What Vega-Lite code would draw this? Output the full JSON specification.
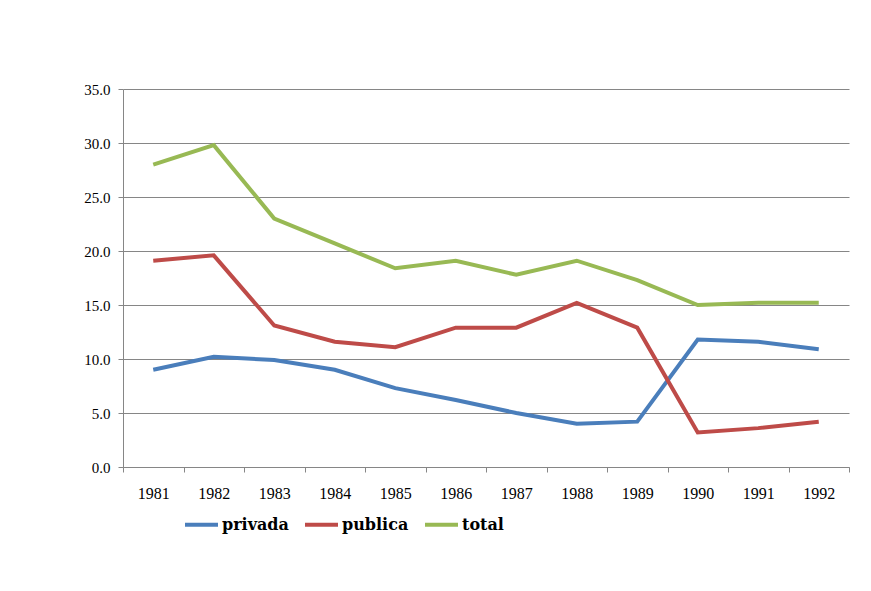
{
  "$schema": "https://vega.github.io/schema/vega-lite/v6.json",
  "autosize": {"type": "none"},
  "width": 726,
  "height": 378,
  "padding": {"left": 123, "top": 89, "right": 22, "bottom": 124},
  "background": "white",
  "data": {"values": [
    {"year": "1981", "serie": "privada", "valor": 9.0},
    {"year": "1982", "serie": "privada", "valor": 10.2},
    {"year": "1983", "serie": "privada", "valor": 9.9},
    {"year": "1984", "serie": "privada", "valor": 9.0},
    {"year": "1985", "serie": "privada", "valor": 7.3},
    {"year": "1986", "serie": "privada", "valor": 6.2},
    {"year": "1987", "serie": "privada", "valor": 5.0},
    {"year": "1988", "serie": "privada", "valor": 4.0},
    {"year": "1989", "serie": "privada", "valor": 4.2},
    {"year": "1990", "serie": "privada", "valor": 11.8},
    {"year": "1991", "serie": "privada", "valor": 11.6},
    {"year": "1992", "serie": "privada", "valor": 10.9},
    {"year": "1981", "serie": "publica", "valor": 19.1},
    {"year": "1982", "serie": "publica", "valor": 19.6},
    {"year": "1983", "serie": "publica", "valor": 13.1},
    {"year": "1984", "serie": "publica", "valor": 11.6},
    {"year": "1985", "serie": "publica", "valor": 11.1},
    {"year": "1986", "serie": "publica", "valor": 12.9},
    {"year": "1987", "serie": "publica", "valor": 12.9},
    {"year": "1988", "serie": "publica", "valor": 15.2},
    {"year": "1989", "serie": "publica", "valor": 12.9},
    {"year": "1990", "serie": "publica", "valor": 3.2},
    {"year": "1991", "serie": "publica", "valor": 3.6},
    {"year": "1992", "serie": "publica", "valor": 4.2},
    {"year": "1981", "serie": "total", "valor": 28.0},
    {"year": "1982", "serie": "total", "valor": 29.8},
    {"year": "1983", "serie": "total", "valor": 23.0},
    {"year": "1984", "serie": "total", "valor": 20.7},
    {"year": "1985", "serie": "total", "valor": 18.4},
    {"year": "1986", "serie": "total", "valor": 19.1},
    {"year": "1987", "serie": "total", "valor": 17.8},
    {"year": "1988", "serie": "total", "valor": 19.1},
    {"year": "1989", "serie": "total", "valor": 17.3},
    {"year": "1990", "serie": "total", "valor": 15.0},
    {"year": "1991", "serie": "total", "valor": 15.2},
    {"year": "1992", "serie": "total", "valor": 15.2}
  ]},
  "mark": {"type": "line", "strokeWidth": 4, "strokeCap": "butt", "strokeJoin": "miter"},
  "encoding": {
    "x": {
      "field": "year", "type": "nominal", "title": null,
      "bandPosition": 0.5,
      "scale": {"type": "band", "paddingInner": 0, "paddingOuter": 0},
      "axis": {
        "labelAngle": 0, "tickBand": "extent", "domainColor": "#868686", "tickColor": "#868686",
        "tickSize": 5, "labelPadding": 13, "labelFont": "Liberation Serif", "labelFontSize": 16,
        "labelColor": "#000000", "grid": false
      }
    },
    "y": {
      "field": "valor", "type": "quantitative", "title": null,
      "scale": {"domain": [0, 35], "nice": false},
      "axis": {
        "values": [0, 5, 10, 15, 20, 25, 30, 35], "format": ".1f",
        "grid": true, "gridColor": "#868686", "gridOpacity": 1, "gridWidth": 1,
        "domainColor": "#868686", "tickColor": "#868686", "tickSize": 5, "labelPadding": 8,
        "labelFont": "Liberation Serif", "labelFontSize": 15, "labelColor": "#000000"
      }
    },
    "color": {
      "field": "serie", "type": "nominal", "title": null,
      "scale": {"domain": ["privada", "publica", "total"], "range": ["#4a7ebb", "#be4b48", "#98b954"]},
      "legend": {
        "orient": "none", "legendX": 60, "legendY": 417, "direction": "horizontal",
        "symbolType": "stroke", "symbolSize": 1089, "symbolStrokeWidth": 4,
        "labelFont": "DejaVu Serif", "labelFontSize": 16, "labelFontWeight": "bold",
        "labelColor": "#000000", "columnPadding": 8, "symbolOffset": 0, "labelOffset": 2,
        "labelLimit": 200
      }
    }
  },
  "config": {"view": {"stroke": null}, "legend": {"labelFont": "DejaVu Serif"}}
}
